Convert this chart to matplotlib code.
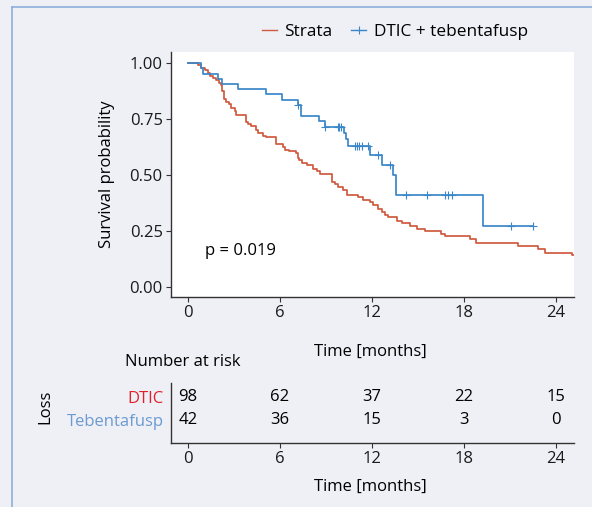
import matplotlib
matplotlib.use("Agg")
import matplotlib.pyplot as plt
from matplotlib.lines import Line2D
import numpy as np

plt.rcParams['font.family'] = ['Open Sans', 'DejaVu Sans']
plt.rcParams['font.size'] = 12

# Kaplan-Meier steps (months, survival)
blue_t = [0, 0.87, 0.98, 1.96, 2.24, 3.26, 5.07, 6.16, 7.14, 7.35, 8.55, 8.92,
          10.19, 10.32, 10.45, 11.86, 12.67, 13.34, 13.56, 19.22]
blue_s = [1.0, 0.976, 0.952, 0.930, 0.906, 0.883, 0.861, 0.835, 0.812, 0.763, 0.741, 0.714,
          0.686, 0.659, 0.629, 0.588, 0.546, 0.501, 0.412, 0.274]
blue_end = 22.48
blue_cens = [7.2, 8.94, 9.76, 9.87, 9.96, 10.88, 11.03, 11.16, 11.36, 11.75, 12.36, 13.17,
             14.21, 15.56, 16.76, 16.93, 17.19, 21.04, 22.48]

red_t = [0, 0.65, 0.87, 1.09, 1.31, 1.46, 1.63, 1.85, 2.0, 2.13, 2.24, 2.33, 2.46, 2.68,
         2.83, 3.05, 3.16, 3.76, 3.92, 4.13, 4.46, 4.57, 4.9, 5.07, 5.72, 6.2, 6.31, 6.59,
         7.07, 7.14, 7.25, 7.46, 7.73, 8.16, 8.38, 8.6, 9.36, 9.42, 9.58, 9.79, 10.08, 10.34,
         11.1, 11.43, 11.86, 12.08, 12.4, 12.62, 12.84, 13.06, 13.6, 13.93, 14.47, 14.9,
         15.45, 16.52, 16.76, 18.39, 18.78, 21.55, 22.79, 23.29, 25.03]
red_s = [1.0, 0.992, 0.978, 0.967, 0.955, 0.943, 0.933, 0.922, 0.910, 0.900, 0.873, 0.838,
         0.828, 0.817, 0.798, 0.787, 0.768, 0.738, 0.728, 0.719, 0.701, 0.686, 0.674, 0.668,
         0.638, 0.626, 0.611, 0.606, 0.596, 0.578, 0.566, 0.554, 0.543, 0.528, 0.518, 0.503,
         0.484, 0.469, 0.458, 0.446, 0.434, 0.412, 0.401, 0.389, 0.379, 0.368, 0.349, 0.334,
         0.323, 0.311, 0.296, 0.286, 0.274, 0.259, 0.249, 0.237, 0.226, 0.214, 0.195, 0.184,
         0.169, 0.154, 0.144]
red_end = 25.17

risk_times = [0, 6, 12, 18, 24]
risk_dtic = [98, 62, 37, 22, 15]
risk_teb = [42, 36, 15, 3, 0]
groups = ["DTIC", "Tebentafusp"]

red = "#cf5a3f"
blue = "#3a86c8"
bg = "#eff0f6"

W, H = 592, 507
fig = plt.figure(figsize=(W / 100, H / 100), dpi=100, facecolor=bg)

# border lines of the panel
fig.add_artist(Line2D([11.5 / W, 11.5 / W], [0, 1 - 6.5 / H], color="#8eaedb", lw=1.2))
fig.add_artist(Line2D([11.5 / W, 1], [1 - 6.5 / H, 1 - 6.5 / H], color="#8eaedb", lw=1.2))

xlim = (-1.11, 25.17)

# main KM plot
ax = fig.add_axes([171 / W, 1 - 297 / H, 403 / W, 245 / H])
ax.set_facecolor("white")
ax.step(red_t + [red_end], red_s + [red_s[-1]], where="post", color=red, lw=1.25)
ax.step(blue_t + [blue_end], blue_s + [blue_s[-1]], where="post", color=blue, lw=1.25)
bt = np.array(blue_t)
bs = np.array(blue_s)
cens_s = [bs[np.searchsorted(bt, c, side="right") - 1] for c in blue_cens]
ax.plot(blue_cens, cens_s, ls="none", marker="+", ms=6, mew=0.8, color=blue)

ax.set_xlim(*xlim)
ax.set_ylim(-0.0446, 1.049)
ax.set_xticks(risk_times)
ax.set_yticks([0, 0.25, 0.5, 0.75, 1.0])
ax.set_yticklabels(["0.00", "0.25", "0.50", "0.75", "1.00"])
for s in ["top", "right"]:
    ax.spines[s].set_visible(False)
for s in ["left", "bottom"]:
    ax.spines[s].set_color("#333333")
    ax.spines[s].set_linewidth(1.0)
ax.tick_params(length=3.5, width=0.8, color="#333333", pad=2.5, labelcolor="#1a1a1a")
ax.text(1.1, 0.16, "p = 0.019", ha="left", va="center")
ax.set_xlabel("Time [months]")
ax.xaxis.label.set_va("center")
ax.xaxis.set_label_coords(0.494, -0.2245)
ax.set_ylabel("Survival probability")
ax.yaxis.label.set_va("center")
ax.yaxis.set_label_coords(-0.159, 0.5)

handles = [Line2D([], [], color=red, lw=1.0),
           Line2D([], [], color=blue, lw=1.0, marker="+", ms=6, mew=0.8)]
fig.legend(handles, ["Strata", "DTIC + tebentafusp"], loc="center",
           bbox_to_anchor=(0.667, 1 - 32 / H), ncol=2, frameon=False, fontsize=12.4,
           handlelength=0.85, columnspacing=1.1, handletextpad=0.45)

# number at risk table
axr = fig.add_axes([171 / W, 1 - 443 / H, 403 / W, 60 / H])
axr.set_facecolor("none")
axr.set_xlim(*xlim)
axr.set_ylim(0, 2.6)
for t, a, b in zip(risk_times, risk_dtic, risk_teb):
    axr.text(t, 2, str(a), ha="center", va="center")
    axr.text(t, 1, str(b), ha="center", va="center")
axr.set_xticks(risk_times)
axr.set_yticks([2, 1])
axr.set_yticklabels(groups)
axr.get_yticklabels()[0].set_color("#e3202a")
axr.get_yticklabels()[1].set_color("#6b9bd2")
for s in ["top", "right"]:
    axr.spines[s].set_visible(False)
for s in ["left", "bottom"]:
    axr.spines[s].set_color("#333333")
    axr.spines[s].set_linewidth(1.0)
axr.tick_params(axis="x", length=3.5, width=0.8, color="#333333", pad=2.5, labelcolor="#1a1a1a")
axr.tick_params(axis="y", length=0, pad=5)
axr.set_xlabel("Time [months]")
axr.xaxis.label.set_va("center")
axr.xaxis.set_label_coords(0.494, -0.733)
axr.set_ylabel("Loss")
axr.yaxis.label.set_va("center")
axr.yaxis.set_label_coords(-0.3127, 0.6)
axr.text(-0.114, 1.35, "Number at risk", transform=axr.transAxes, ha="left", va="center")

fig.savefig("out.png", dpi=100, facecolor=bg)
